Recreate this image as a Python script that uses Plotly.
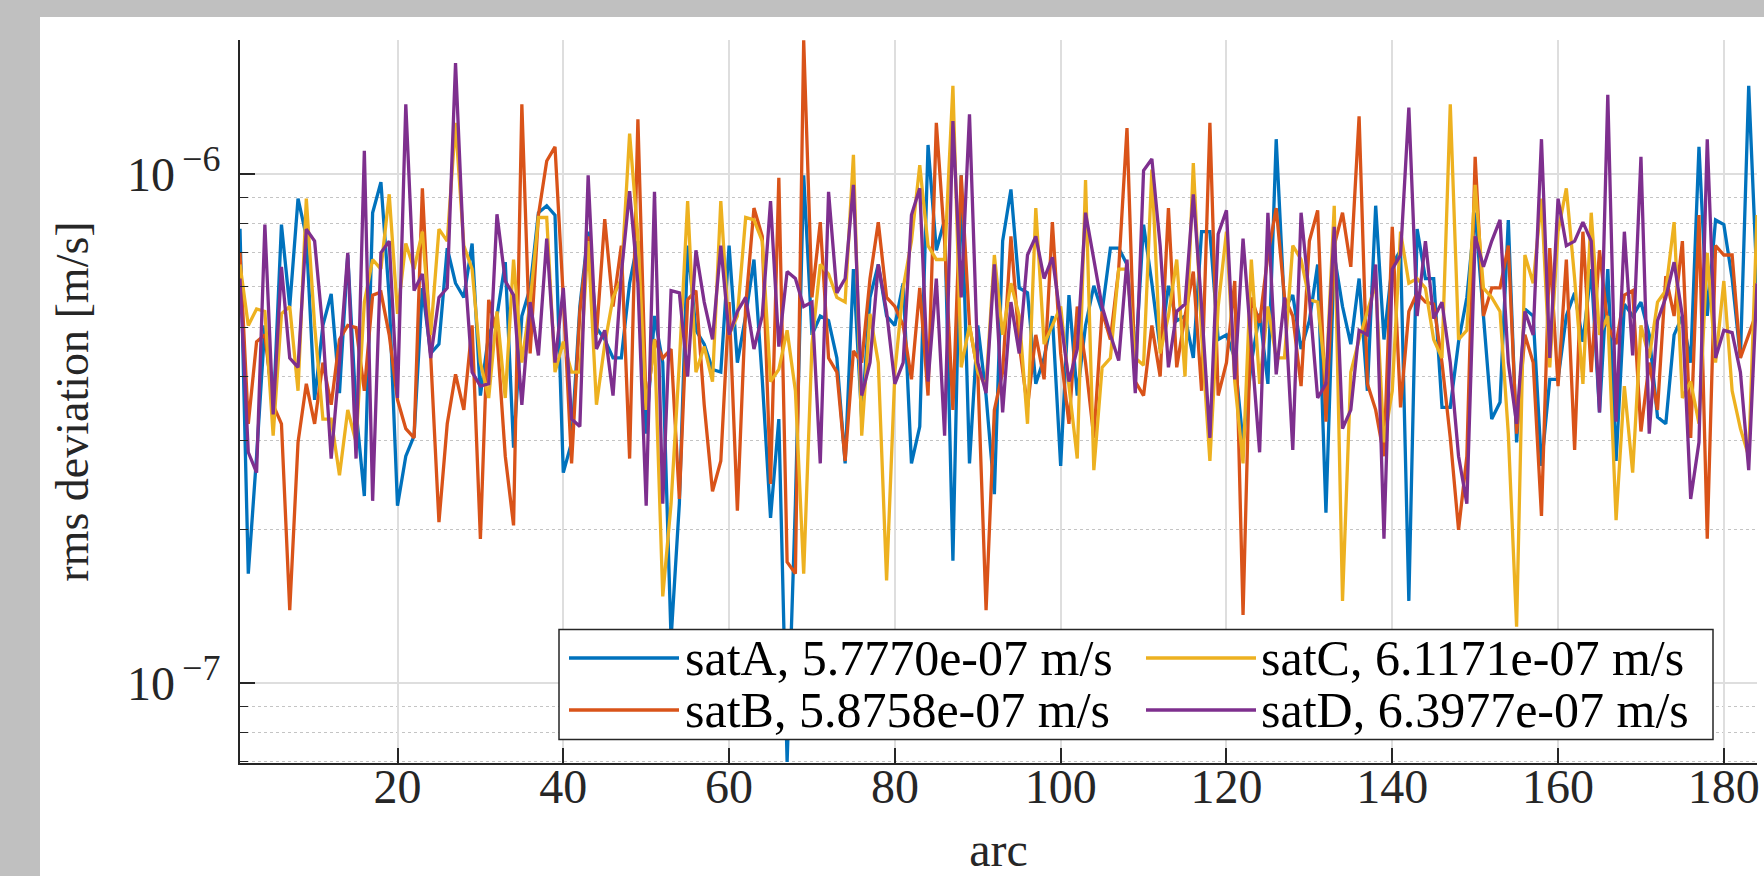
import plotly.graph_objects as go

# rms deviation per arc, values in units of 1e-7 m/s
UNIT = 1e-7

sat_a = [7.8, 1.64, 2.79, 5.04, 3.37, 7.95, 5.49, 8.94, 7.54, 3.60,
         5.04, 5.81, 3.71, 6.93, 3.44, 2.33, 8.39, 9.63, 5.72, 2.23,
         2.79, 3.06, 5.97, 4.44, 4.63, 7.15, 6.10, 5.72, 7.30, 3.67,
         4.83, 5.26, 6.71, 2.90, 5.26, 5.97, 8.39, 8.66, 8.30, 2.59,
         2.97, 5.49, 7.70, 4.99, 4.73, 4.35, 4.35, 6.10, 7.38, 3.09,
         5.26, 4.26, 1.22, 2.25, 7.23, 4.93, 4.63, 4.13, 4.08, 7.23,
         4.26, 5.26, 6.79, 3.95, 2.11, 3.30, 0.70, 2.25, 9.94, 4.83,
         5.26, 5.15, 4.35, 2.70, 6.50, 3.30, 5.72, 6.64, 5.26, 5.04,
         6.10, 2.70, 3.19, 11.4, 7.08, 8.12, 1.74, 9.94, 2.70, 5.04,
         3.67, 2.35, 7.38, 9.32, 5.97, 5.84, 3.87, 4.35, 5.26, 2.67,
         5.78, 3.67, 5.04, 6.03, 5.37, 7.15, 7.15, 6.64, 4.26, 7.95,
         6.10, 4.53, 6.03, 5.15, 5.26, 4.35, 7.70, 7.70, 4.73, 4.83,
         4.35, 2.97, 4.26, 5.31, 3.87, 11.7, 5.43, 5.78, 4.53, 5.15,
         6.64, 2.16, 6.93, 5.49, 4.63, 6.23, 3.75, 8.66, 4.73, 6.64,
         7.08, 1.45, 7.79, 6.23, 6.23, 3.48, 3.48, 4.68, 5.72, 8.39,
         5.26, 3.30, 3.56, 8.12, 2.97, 5.43, 5.26, 2.67, 3.95, 3.95,
         5.26, 5.84, 4.68, 6.50, 3.40, 6.50, 2.73, 5.55, 5.26, 5.60,
         4.83, 3.33, 3.23, 4.83, 5.26, 4.26, 11.3, 5.26, 8.12, 7.95,
         6.23, 4.35, 14.9, 6.10]

sat_b = [7.00, 3.23, 4.68, 4.83, 3.52, 3.23, 1.39, 2.97, 3.87, 3.23,
         4.26, 3.52, 4.73, 5.04, 4.99, 3.75, 5.78, 5.86, 4.83, 3.60,
         3.16, 3.03, 9.37, 4.44, 2.07, 3.23, 4.04, 3.44, 5.04, 1.92,
         5.66, 4.83, 2.79, 2.04, 13.7, 4.44, 8.30, 10.6, 11.3, 5.72,
         2.70, 5.37, 7.54, 4.83, 8.15, 5.49, 7.23, 2.76, 12.8, 3.44,
         4.73, 4.35, 4.53, 2.30, 5.66, 5.90, 3.52, 2.38, 2.73, 5.60,
         2.18, 5.49, 8.57, 7.54, 2.46, 9.83, 1.73, 1.64, 18.3, 5.72,
         8.04, 4.35, 4.08, 2.73, 4.49, 4.26, 6.23, 8.04, 5.72, 5.49,
         5.04, 3.95, 5.97, 3.67, 12.6, 7.38, 3.44, 9.94, 5.04, 4.08,
         1.39, 3.44, 4.08, 7.54, 4.63, 3.48, 4.83, 3.95, 8.04, 4.44,
         3.23, 5.49, 4.26, 3.03, 5.37, 4.73, 6.50, 12.3, 3.91, 3.67,
         5.04, 4.00, 8.57, 4.17, 5.26, 6.43, 3.75, 12.6, 3.67, 4.26,
         6.16, 1.36, 5.72, 5.10, 6.93, 8.57, 5.72, 5.26, 3.83, 7.38,
         8.48, 3.26, 7.23, 8.39, 6.57, 12.97, 3.87, 3.44, 2.79, 7.87,
         3.48, 5.37, 5.84, 5.60, 5.55, 4.26, 3.03, 2.00, 2.79, 10.8,
         5.26, 5.97, 5.97, 7.23, 3.09, 4.83, 4.26, 2.13, 7.15, 3.83,
         6.79, 2.87, 7.70, 4.08, 7.08, 5.04, 4.63, 5.78, 5.90, 3.12,
         4.26, 3.44, 6.30, 5.26, 7.38, 3.03, 8.30, 1.92, 7.23, 6.93,
         6.93, 4.35, 4.83, 5.37]

sat_c = [6.64, 5.04, 5.43, 5.37, 3.06, 5.31, 5.49, 3.75, 8.94, 5.04,
         3.30, 3.30, 2.56, 3.44, 2.97, 5.60, 6.79, 6.50, 9.12, 5.31,
         7.30, 6.50, 7.70, 4.83, 7.79, 7.38, 12.6, 7.23, 6.50, 4.26,
         3.63, 5.37, 3.63, 6.79, 4.26, 5.60, 8.21, 8.21, 4.08, 4.68,
         4.08, 4.08, 7.38, 3.52, 4.63, 5.72, 6.23, 12.0, 7.54, 3.44,
         4.73, 1.48, 2.25, 4.26, 8.84, 4.08, 4.58, 3.91, 8.84, 4.83,
         5.26, 8.21, 8.12, 7.38, 3.91, 4.13, 4.93, 3.75, 1.64, 4.63,
         6.64, 6.36, 5.72, 5.60, 10.9, 3.06, 5.31, 4.26, 1.59, 4.08,
         5.97, 7.38, 10.4, 7.23, 6.79, 6.79, 14.9, 4.17, 5.04, 4.08,
         3.83, 6.93, 4.83, 6.10, 5.26, 3.23, 8.57, 4.63, 5.04, 5.49,
         3.83, 2.76, 9.73, 2.62, 4.17, 4.35, 6.50, 6.50, 4.35, 4.21,
         10.2, 4.44, 5.26, 6.79, 4.00, 10.5, 4.83, 2.73, 5.49, 7.70,
         3.91, 2.70, 6.79, 3.87, 5.49, 4.35, 4.35, 7.23, 6.79, 5.66,
         5.60, 3.91, 8.66, 1.45, 4.08, 4.73, 5.37, 6.10, 2.97, 3.75,
         7.70, 6.10, 6.23, 5.97, 4.73, 4.35, 13.7, 4.73, 4.93, 9.52,
         5.97, 5.72, 5.37, 3.09, 1.29, 6.93, 6.10, 8.94, 4.17, 7.70,
         9.37, 6.23, 3.87, 8.39, 4.83, 5.26, 2.09, 3.83, 2.59, 5.04,
         4.35, 5.60, 5.90, 8.04, 3.63, 3.91, 3.23, 7.00, 4.26, 6.16,
         3.75, 3.16, 2.79, 8.30]

sat_d = [6.23, 2.84, 2.59, 7.95, 3.37, 6.57, 4.35, 4.17, 7.79, 7.38,
         4.93, 2.76, 4.26, 7.00, 2.76, 11.1, 2.28, 7.00, 7.38, 3.63,
         13.7, 5.90, 6.36, 4.35, 5.72, 5.97, 16.5, 6.93, 4.08, 3.83,
         3.87, 8.33, 6.16, 5.78, 3.52, 5.60, 4.40, 7.46, 4.26, 5.97,
         3.30, 3.19, 9.94, 4.53, 4.93, 3.67, 6.36, 9.25, 6.10, 2.23,
         9.22, 2.25, 5.90, 5.84, 4.00, 7.08, 5.60, 4.73, 7.23, 4.83,
         5.37, 5.72, 4.53, 5.26, 8.84, 4.58, 6.43, 6.23, 5.49, 5.60,
         2.70, 9.22, 5.84, 6.23, 9.52, 3.67, 4.26, 6.64, 5.37, 3.87,
         4.26, 8.30, 9.37, 3.91, 6.23, 3.06, 12.7, 5.72, 13.1, 4.26,
         3.71, 6.64, 3.40, 5.60, 4.44, 6.93, 7.54, 6.23, 6.86, 5.15,
         3.91, 4.53, 8.39, 6.79, 5.49, 4.83, 4.30, 6.79, 3.71, 10.15,
         10.7, 7.23, 4.17, 5.37, 5.55, 9.12, 5.49, 3.03, 7.62, 8.48,
         3.95, 7.46, 4.63, 2.84, 8.39, 4.04, 5.72, 2.87, 8.39, 5.72,
         3.63, 3.87, 7.87, 3.16, 3.44, 4.93, 4.83, 6.64, 1.92, 6.50,
         6.93, 13.5, 5.26, 7.38, 5.20, 5.60, 4.26, 2.79, 2.25, 7.54,
         6.57, 7.38, 8.12, 4.26, 3.23, 5.37, 4.83, 11.7, 4.35, 8.94,
         7.23, 7.38, 8.04, 7.38, 3.40, 14.3, 3.26, 7.70, 4.40, 10.8,
         3.09, 5.15, 5.72, 6.71, 5.26, 2.30, 2.97, 11.7, 4.35, 4.93,
         4.88, 4.08, 2.62, 6.10]

series_names = ["satA", "satB", "satC", "satD"]
series_rms = ["5.7770e-07", "5.8758e-07", "6.1171e-07", "6.3977e-07"]
series_values = [sat_a, sat_b, sat_c, sat_d]
colors = ["#0072BD", "#D95319", "#EDB120", "#7E2F8E"]

x_tick_vals = [20, 40, 60, 80, 100, 120, 140, 160, 180]
y_tick_vals = [1e-7, 1e-6]
y_tick_text = ["10<sup><span style='font-size:36px'>\u2009\u22127</span></sup>",
               "10<sup><span style='font-size:36px'>\u2009\u22126</span></sup>"]
y_minor_vals = [7e-8, 8e-8, 9e-8, 2e-7, 3e-7, 4e-7, 5e-7, 6e-7, 7e-7, 8e-7, 9e-7]

AX = "#262626"
FONT = "Liberation Serif"

fig = go.Figure()
for name, vals, col in zip(series_names, series_values, colors):
    fig.add_trace(go.Scatter(
        x=list(range(1, len(vals) + 1)),
        y=[v * UNIT for v in vals],
        mode="lines", name=name,
        line=dict(color=col, width=3.3),
        showlegend=False,
    ))

# geometry of the plot area in pixels (for paper-coordinate conversions)
W, H = 1764, 876
L, R, T, B = 240, 7, 40, 113
pw, ph = W - L - R, H - T - B


def px(xp):
    return (xp - L) / pw


def py(yp):
    return (H - B - yp) / ph


shapes = [
    # white figure panel over grey window background
    dict(type="rect", xref="paper", yref="paper", x0=px(40), x1=px(1790),
         y0=py(900), y1=py(17), fillcolor="white", line=dict(width=0), layer="below"),
    # legend box
    dict(type="rect", xref="paper", yref="paper", x0=px(559), x1=px(1713),
         y0=py(739.5), y1=py(629.5), fillcolor="white",
         line=dict(color=AX, width=1.5), layer="above"),
]
annotations = []
legend_cells = [(0, 0), (0, 1), (1, 0), (1, 1)]  # (column, row) for A, B, C, D
col_line_x = [(569, 679), (1146, 1256)]
col_text_x = [683, 1259]
row_y = [658, 710]
for (c, r), name, rms, col in zip(legend_cells, series_names, series_rms, colors):
    shapes.append(dict(type="line", xref="paper", yref="paper",
                       x0=px(col_line_x[c][0]), x1=px(col_line_x[c][1]),
                       y0=py(row_y[r]), y1=py(row_y[r]),
                       line=dict(color=col, width=3.3), layer="above"))
    annotations.append(dict(xref="paper", yref="paper", x=px(col_text_x[c]), y=py(row_y[r]),
                            xanchor="left", yanchor="middle", showarrow=False,
                            text=f"{name}, {rms} m/s",
                            font=dict(family=FONT, size=50, color="black")))

fig.update_layout(
    width=W, height=H,
    margin=dict(l=L, r=R, t=T, b=B, autoexpand=False),
    paper_bgcolor="#c0c0c0", plot_bgcolor="white",
    font=dict(family=FONT, size=48, color=AX),
    shapes=shapes, annotations=annotations,
    showlegend=False,
)
fig.update_xaxes(
    range=[1, 184], tickmode="array", tickvals=x_tick_vals,
    ticks="inside", ticklen=15, tickwidth=1.5, tickcolor=AX,
    showline=True, linecolor=AX, linewidth=2, mirror=False,
    showgrid=True, gridcolor="#dedede", gridwidth=1.5, zeroline=False,
    ticklabelstandoff=-20,
    title=dict(text="arc", standoff=66, font=dict(family=FONT, size=48, color=AX)),
)
fig.update_yaxes(
    type="log", range=[-7.157, -5.737], tickmode="array",
    tickvals=y_tick_vals, ticktext=y_tick_text,
    ticks="inside", ticklen=15, tickwidth=1.5, tickcolor=AX,
    showline=True, linecolor=AX, linewidth=2, mirror=False,
    showgrid=True, gridcolor="#dedede", gridwidth=1.5, zeroline=False,
    ticklabelstandoff=8,
    minor=dict(tickmode="array", tickvals=y_minor_vals, ticks="inside", ticklen=8,
               tickwidth=1.2, tickcolor=AX, showgrid=True, gridcolor="#c4c4c4",
               griddash="dot", gridwidth=1),
    title=dict(text="rms deviation [m/s]", standoff=24, font=dict(family=FONT, size=46, color=AX)),
)

fig.write_html("out.html", config={"displayModeBar": False},
               post_script="document.body.style.margin='0';")
